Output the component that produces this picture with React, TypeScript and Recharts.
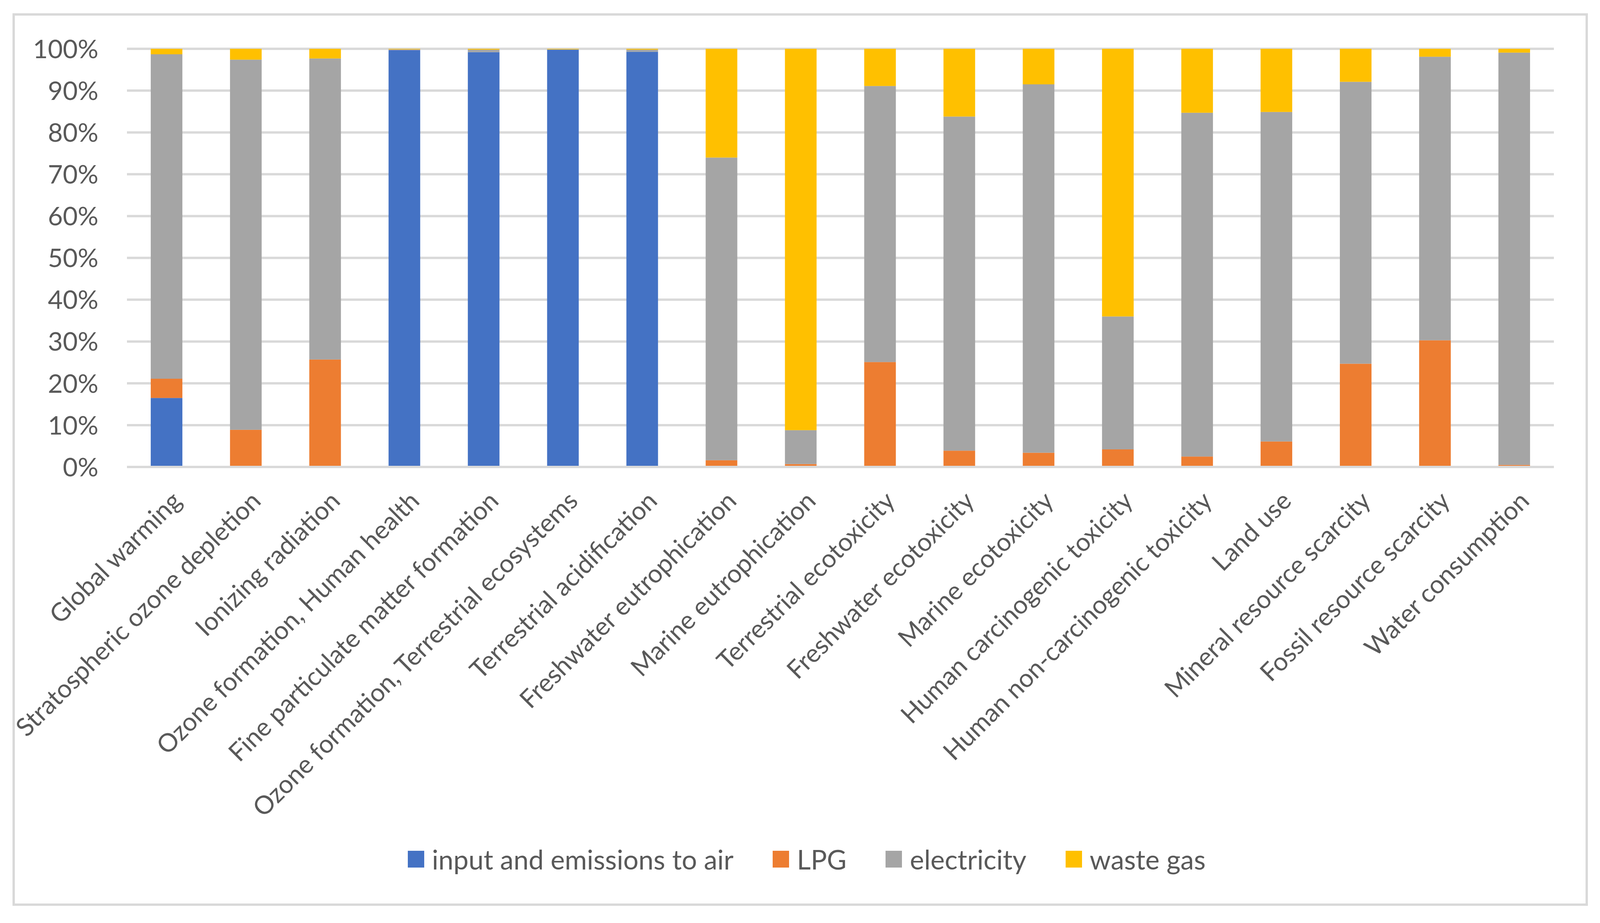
import React from "react"
import { BarChart, Bar, XAxis, YAxis, CartesianGrid, Legend } from "recharts"

const categories = [
  "Global warming",
  "Stratospheric ozone depletion",
  "Ionizing radiation",
  "Ozone formation, Human health",
  "Fine particulate matter formation",
  "Ozone formation, Terrestrial ecosystems",
  "Terrestrial acidification",
  "Freshwater eutrophication",
  "Marine eutrophication",
  "Terrestrial ecotoxicity",
  "Freshwater ecotoxicity",
  "Marine ecotoxicity",
  "Human carcinogenic toxicity",
  "Human non-carcinogenic toxicity",
  "Land use",
  "Mineral resource scarcity",
  "Fossil resource scarcity",
  "Water consumption",
]

// shares in percent
const airValues = [16.5, 0, 0, 99.7, 99.2, 99.8, 99.3, 0, 0, 0, 0, 0, 0, 0, 0, 0, 0, 0]
const lpgValues = [4.6, 8.9, 25.7, 0.05, 0, 0, 0, 1.6, 0.7, 25.1, 3.9, 3.4, 4.2, 2.5, 6.1, 24.7, 30.3, 0.5]
const electricityValues = [77.6, 88.5, 72.0, 0.1, 0.6, 0.05, 0.5, 72.4, 8.1, 66.0, 79.9, 88.1, 31.8, 82.2, 78.8, 67.4, 67.8, 98.6]
const wasteGasValues = [1.3, 2.6, 2.3, 0.15, 0.2, 0.15, 0.2, 26.0, 91.2, 8.9, 16.2, 8.5, 64.0, 15.3, 15.1, 7.9, 1.9, 0.9]

const yTicks = [0, 10, 20, 30, 40, 50, 60, 70, 80, 90, 100]

const SERIES = [
  { key: "air", name: "input and emissions to air", color: "#4472C4" },
  { key: "lpg", name: "LPG", color: "#ED7D31" },
  { key: "electricity", name: "electricity", color: "#A5A5A5" },
  { key: "waste", name: "waste gas", color: "#FFC000" },
]

const data = categories.map((name, i) => ({
  name,
  air: airValues[i],
  lpg: lpgValues[i],
  electricity: electricityValues[i],
  waste: wasteGasValues[i],
}))

const FONT = "Lato, 'Open Sans', sans-serif"
const TEXT = "#595959"
const GRID = "#D9D9D9"

const XTick = (props: any) => {
  const { x, y, payload } = props
  return (
    <g transform={`translate(${x + 8},${y + 55})`}>
      <text x={0} y={0} dy="0.74em" textAnchor="end" transform="rotate(-45)" fill={TEXT} fontSize={65} fontFamily={FONT}>
        {payload.value}
      </text>
    </g>
  )
}

const YTick = (props: any) => {
  const { x, y, payload } = props
  return (
    <text x={x - 71} y={y} dy="0.36em" textAnchor="end" fill={TEXT} fontSize={66} fontFamily={FONT}>
      {`${payload.value}%`}
    </text>
  )
}

const LegendContent = () => (
  <div
    style={{
      height: 80,
      display: "flex",
      justifyContent: "center",
      alignItems: "center",
      paddingLeft: 128,
      fontFamily: FONT,
      fontSize: 69,
      color: TEXT,
    }}
  >
    {SERIES.map((s) => (
      <div key={s.key} style={{ display: "flex", alignItems: "center", marginRight: 100 }}>
        <div style={{ width: 42, height: 43, background: s.color, marginRight: 20 }} />
        <span>{s.name}</span>
      </div>
    ))}
  </div>
)

export default function App() {
  return (
    <div style={{ position: "relative", width: 4102, height: 2364, margin: -8, background: "#fff" }}>
      <div
        style={{
          position: "absolute",
          left: 32,
          top: 34,
          width: 4033,
          height: 2286,
          border: `6px solid ${GRID}`,
          boxSizing: "border-box",
        }}
      />
      <div style={{ position: "absolute", left: 0, top: 0 }}>
        <BarChart
          width={4102}
          height={2364}
          data={data}
          margin={{ top: 125, right: 124, bottom: 124, left: 0 }}
          barCategoryGap="30%"
        >
          <CartesianGrid vertical={false} stroke={GRID} strokeWidth={6} />
          <XAxis
            dataKey="name"
            interval={0}
            height={964}
            tickLine={false}
            tickSize={0}
            axisLine={{ stroke: GRID, strokeWidth: 6 }}
            tick={<XTick />}
          />
          <YAxis
            width={325}
            domain={[0, 100]}
            ticks={yTicks}
            allowDataOverflow
            tickLine={false}
            tickSize={0}
            axisLine={false}
            tick={<YTick />}
          />
          <Legend
            verticalAlign="bottom"
            content={<LegendContent />}
            wrapperStyle={{ left: 0, width: 4102 }}
          />
          {SERIES.map((s) => (
            <Bar key={s.key} dataKey={s.key} name={s.name} stackId="a" fill={s.color} isAnimationActive={false} />
          ))}
        </BarChart>
      </div>
    </div>
  )
}
